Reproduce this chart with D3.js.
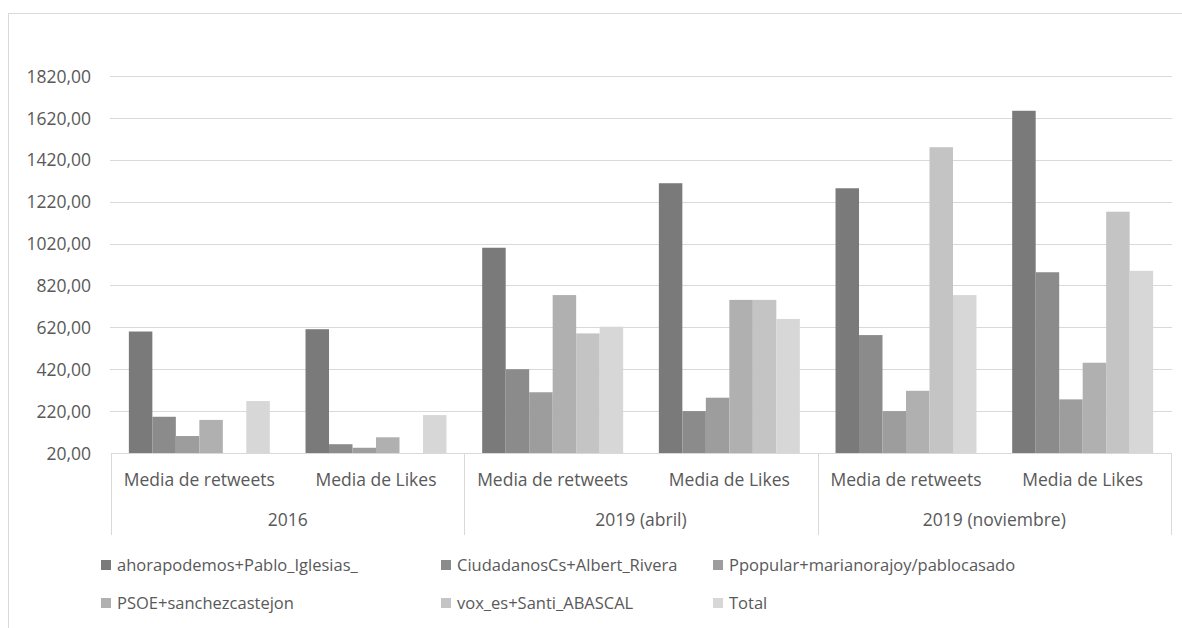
<!DOCTYPE html>
<html>
<head>
<meta charset="utf-8">
<script src="https://cdn.jsdelivr.net/npm/d3@7"></script>
<style>
  html, body { margin: 0; padding: 0; background: #fff; }
  svg { display: block; }
  text { font-family: "Open Sans", "Noto Sans", sans-serif; fill: #595959; }
</style>
</head>
<body>
<svg id="chart" width="1182" height="628"></svg>
<script>
// ---- data ----
const groups = ["2016", "2019 (abril)", "2019 (noviembre)"];
const measures = ["Media de retweets", "Media de Likes"];
const seriesNames = [
  "ahorapodemos+Pablo_Iglesias_",
  "CiudadanosCs+Albert_Rivera",
  "Ppopular+marianorajoy/pablocasado",
  "PSOE+sanchezcastejon",
  "vox_es+Santi_ABASCAL",
  "Total"
];
// order: 2016 RT, 2016 Likes, 2019a RT, 2019a Likes, 2019n RT, 2019n Likes
const ahorapodemos = [600, 611, 1000, 1308, 1284, 1654];
const ciudadanos   = [193, 62, 420, 220, 583, 883];
const ppopular     = [101, 45, 310, 284, 220, 276];
const psoe         = [178, 95, 774, 751, 317, 451];
const vox          = [0, 0, 591, 751, 1480, 1172];
const total        = [268, 201, 623, 660, 774, 890];
const seriesValues = [ahorapodemos, ciudadanos, ppopular, psoe, vox, total];
const yTicks = [20, 220, 420, 620, 820, 1020, 1220, 1420, 1620, 1820];
const colors = ["#7a7a7a", "#8b8b8b", "#9d9d9d", "#b0b0b0", "#c4c4c4", "#d7d7d7"];

(function () {
// ---- layout ----
const svg = d3.select("#chart");
const pLeft = 111, pRight = 1171, pTop = 76, pBottom = 453;

// frame
svg.append("rect").attr("x", 8.5).attr("y", 13.5).attr("width", 1200).attr("height", 700)
  .attr("fill", "none").attr("stroke", "#d9d9d9").attr("stroke-width", 1);

const y = d3.scaleLinear().domain([20, 1820]).range([pBottom, pTop]);

const cats = [];
groups.forEach(g => measures.forEach(m => cats.push(g + "|" + m)));
const x0 = d3.scaleBand().domain(cats).range([pLeft, pRight]).paddingInner(0).paddingOuter(0);
const x1 = d3.scaleBand().domain(seriesNames).range([0, x0.bandwidth()]).paddingInner(0).paddingOuter(0.76);
const xg = d3.scaleBand().domain(groups).range([pLeft, pRight]).padding(0);

// gridlines
svg.append("g").selectAll("line").data(yTicks.slice(1)).join("line")
  .attr("x1", pLeft - 1).attr("x2", pRight + 1)
  .attr("y1", d => Math.round(y(d)) + 0.5).attr("y2", d => Math.round(y(d)) + 0.5)
  .attr("stroke", "#d9d9d9").attr("stroke-width", 1);

// y axis labels
const yAxis = d3.axisLeft(y).tickValues(yTicks).tickSize(0).tickPadding(0)
  .tickFormat(d => d.toFixed(2).replace(".", ","));
const ya = svg.append("g").attr("transform", "translate(91,0)").call(yAxis);
ya.select(".domain").remove();
ya.selectAll("text").attr("font-size", 17.5).attr("fill", "#595959")
  .style("font-family", '"Open Sans", sans-serif').attr("dy", "0.35em");

// bars
const barData = [];
cats.forEach((c, ci) => seriesNames.forEach((s, si) => {
  barData.push({ cat: c, s: s, si: si, v: seriesValues[si][ci] });
}));
svg.append("g").selectAll("rect").data(barData).join("rect")
  .attr("x", d => x0(d.cat) + x1(d.s))
  .attr("width", x1.bandwidth())
  .attr("y", d => y(Math.max(d.v, 20)))
  .attr("height", d => y(20) - y(Math.max(d.v, 20)))
  .attr("fill", d => colors[d.si]);

// category axis (multi-level)
const axisG = svg.append("g");
axisG.append("line").attr("x1", pLeft).attr("x2", pRight).attr("y1", pBottom + 0.5).attr("y2", pBottom + 0.5)
  .attr("stroke", "#d9d9d9");
const seps = groups.map(g => xg(g)).concat([pRight]);
axisG.selectAll("line.sep").data(seps).join("line").attr("class", "sep")
  .attr("x1", d => Math.round(d) + 0.5).attr("x2", d => Math.round(d) + 0.5)
  .attr("y1", pBottom).attr("y2", 535)
  .attr("stroke", "#d9d9d9");
axisG.selectAll("text.m").data(cats).join("text").attr("class", "m")
  .attr("x", d => x0(d) + x0.bandwidth() / 2).attr("y", 480)
  .attr("dy", "0.35em").attr("text-anchor", "middle").attr("font-size", 17.5)
  .text(d => d.split("|")[1]);
axisG.selectAll("text.g").data(groups).join("text").attr("class", "g")
  .attr("x", d => xg(d) + xg.bandwidth() / 2).attr("y", 520)
  .attr("dy", "0.35em").attr("text-anchor", "middle").attr("font-size", 17.5)
  .text(d => d);

// legend
const legX = [101, 441, 713];
const legY = [565, 603];
const leg = svg.append("g").selectAll("g").data(seriesNames).join("g")
  .attr("transform", (d, i) => `translate(${legX[i % 3]},${legY[Math.floor(i / 3)]})`);
leg.append("rect").attr("x", 0).attr("y", -5).attr("width", 10).attr("height", 10)
  .attr("fill", (d, i) => colors[i]);
leg.append("text").attr("x", 16).attr("y", 0).attr("dy", "0.35em").attr("font-size", 16.5)
  .text(d => d);
})();
</script>
</body>
</html>
